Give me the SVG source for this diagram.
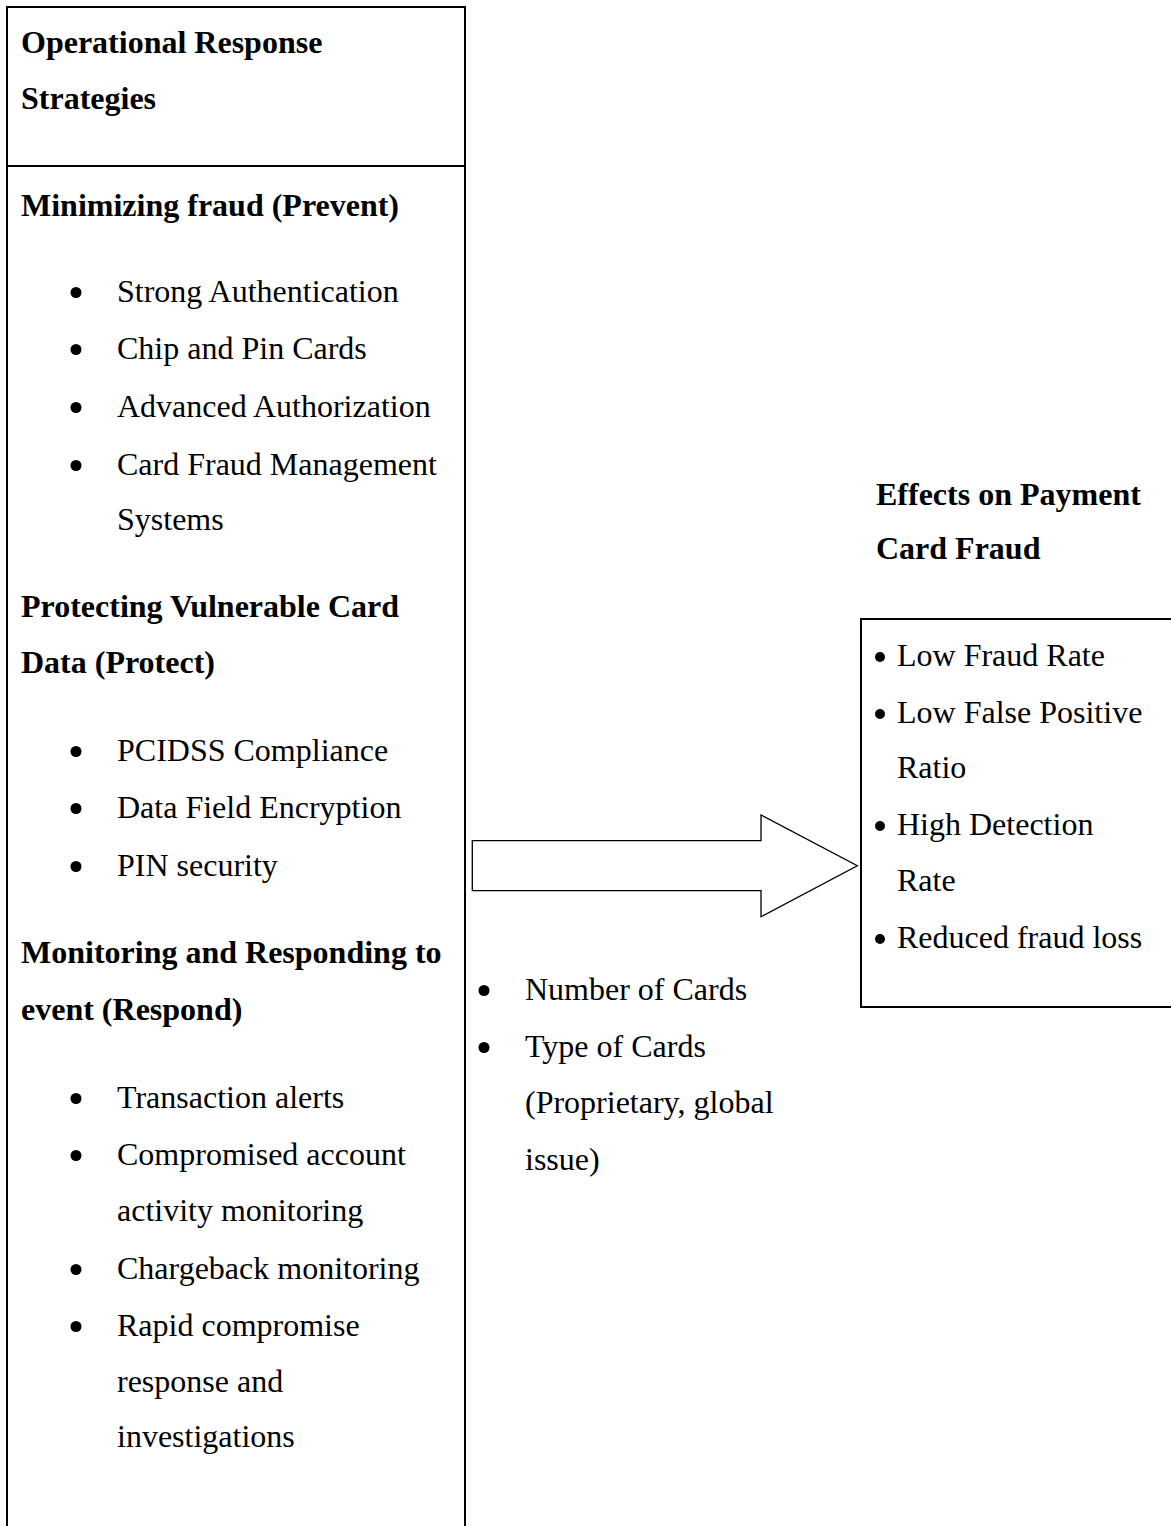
<svg xmlns="http://www.w3.org/2000/svg" width="1171" height="1526" viewBox="0 0 1171 1526">
<style>
  text { font-family: "Liberation Serif", "Times New Roman", serif; font-size: 32px; fill: #000; }
  .b { font-weight: bold; }
  .box { fill: #fff; stroke: #000; stroke-width: 2; }
  .dot { fill: #000; }
</style>
<rect width="1171" height="1526" fill="#fff"/>
<g id="strategies">
  <rect class="box" x="7" y="7" width="458" height="1540"/>
  <line x1="7" y1="166" x2="465" y2="166" stroke="#000" stroke-width="2"/>
  <text class="b" x="21" y="53">Operational Response</text>
  <text class="b" x="21" y="109">Strategies</text>
  <text class="b" x="21" y="216">Minimizing fraud (Prevent)</text>
  <circle class="dot" cx="76" cy="292.5" r="5.5"/><text x="117" y="302">Strong Authentication</text>
  <circle class="dot" cx="76" cy="349.5" r="5.5"/><text x="117" y="359">Chip and Pin Cards</text>
  <circle class="dot" cx="76" cy="407.5" r="5.5"/><text x="117" y="417">Advanced Authorization</text>
  <circle class="dot" cx="76" cy="465.5" r="5.5"/><text x="117" y="475">Card Fraud Management</text>
  <text x="117" y="530">Systems</text>
  <text class="b" x="21" y="617">Protecting Vulnerable Card</text>
  <text class="b" x="21" y="673">Data (Protect)</text>
  <circle class="dot" cx="76" cy="751.5" r="5.5"/><text x="117" y="761">PCIDSS Compliance</text>
  <circle class="dot" cx="76" cy="808.5" r="5.5"/><text x="117" y="818">Data Field Encryption</text>
  <circle class="dot" cx="76" cy="866.5" r="5.5"/><text x="117" y="876">PIN security</text>
  <text class="b" x="21" y="963">Monitoring and Responding to</text>
  <text class="b" x="21" y="1020">event (Respond)</text>
  <circle class="dot" cx="76" cy="1098.5" r="5.5"/><text x="117" y="1108">Transaction alerts</text>
  <circle class="dot" cx="76" cy="1155.5" r="5.5"/><text x="117" y="1165">Compromised account</text>
  <text x="117" y="1221">activity monitoring</text>
  <circle class="dot" cx="76" cy="1269.5" r="5.5"/><text x="117" y="1279">Chargeback monitoring</text>
  <circle class="dot" cx="76" cy="1326.5" r="5.5"/><text x="117" y="1336">Rapid compromise</text>
  <text x="117" y="1392">response and</text>
  <text x="117" y="1447">investigations</text>
</g>
<g id="connectors">
  <polygon points="472.3,840.7 761,840.7 761,815 857.3,865.7 761,916.7 761,890.7 472.3,890.7" fill="#fff" stroke="#000" stroke-width="1.3"/>
</g>
<g id="factors">
  <circle class="dot" cx="484" cy="990.5" r="5.5"/><text x="525" y="1000">Number of Cards</text>
  <circle class="dot" cx="484" cy="1047.5" r="5.5"/><text x="525" y="1057">Type of Cards</text>
  <text x="525" y="1113">(Proprietary, global</text>
  <text x="525" y="1170">issue)</text>
</g>
<g id="effects-title">
  <text class="b" x="876" y="505">Effects on Payment</text>
  <text class="b" x="876" y="559">Card Fraud</text>
</g>
<g id="effects">
  <rect class="box" x="861" y="619" width="330" height="388"/>
  <circle class="dot" cx="880" cy="657" r="5"/><text x="897" y="666">Low Fraud Rate</text>
  <circle class="dot" cx="880" cy="714" r="5"/><text x="897" y="723">Low False Positive</text>
  <text x="897" y="778">Ratio</text>
  <circle class="dot" cx="880" cy="826" r="5"/><text x="897" y="835">High Detection</text>
  <text x="897" y="891">Rate</text>
  <circle class="dot" cx="880" cy="939" r="5"/><text x="897" y="948">Reduced fraud loss</text>
</g>
</svg>
